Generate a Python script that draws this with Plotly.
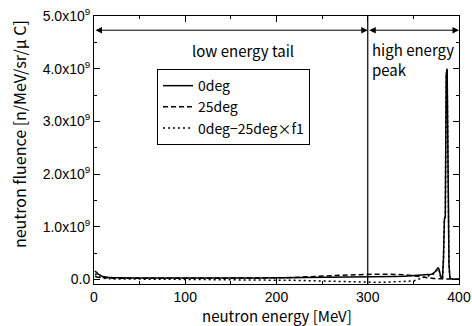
import plotly.graph_objects as go

# ---------------- data (fluence in units of 1e9 n/MeV/sr/uC) ----------------
energy = [1, 2, 3, 4, 6, 8, 10, 12, 15, 20, 25, 30, 40, 50, 60, 70, 80, 90, 100,
          110, 120, 130, 140, 150, 160, 170, 180, 190, 200, 210, 220, 230, 240,
          250, 260, 270, 280, 290, 300, 310, 320, 330, 340, 350, 360, 365, 370,
          372, 374, 376, 377, 378, 379, 380, 381, 382, 383, 384, 385, 386, 387,
          388, 389, 390, 392, 395, 400]

deg0 = [0.16, 0.15, 0.13, 0.11, 0.08, 0.065, 0.055, 0.048, 0.042, 0.036, 0.032,
        0.030, 0.028, 0.027, 0.026, 0.025, 0.025, 0.024, 0.024, 0.024, 0.024,
        0.024, 0.025, 0.025, 0.025, 0.026, 0.027, 0.028, 0.029, 0.030, 0.031,
        0.032, 0.033, 0.035, 0.036, 0.037, 0.038, 0.040, 0.042, 0.045, 0.050,
        0.055, 0.060, 0.070, 0.080, 0.090, 0.100, 0.120, 0.150, 0.200, 0.220,
        0.200, 0.120, 0.050, 0.030, 0.050, 0.400, 1.150, 1.200, 3.900, 4.000,
        2.500, 0.300, 0.030, 0.010, 0.005, 0.005]

deg25 = [0.06, 0.05, 0.045, 0.042, 0.038, 0.035, 0.03, 0.028, 0.026, 0.024, 0.022,
         0.021, 0.020, 0.020, 0.020, 0.020, 0.020, 0.020, 0.020, 0.020, 0.021,
         0.021, 0.022, 0.022, 0.023, 0.024, 0.025, 0.027, 0.030, 0.033, 0.037,
         0.042, 0.050, 0.060, 0.070, 0.080, 0.088, 0.095, 0.100, 0.100, 0.098,
         0.095, 0.090, 0.070, 0.040, 0.030, 0.020, 0.018, 0.016, 0.015, 0.015,
         0.015, 0.015, 0.015, 0.015, 0.015, 0.015, 0.015, 0.015, 0.015, 0.015,
         0.012, 0.010, 0.008, 0.005, 0.003, 0.002]

diff = [0.10, 0.10, 0.085, 0.07, 0.045, 0.03, 0.022, 0.018, 0.014, 0.010, 0.008,
        0.007, 0.006, 0.005, 0.004, 0.003, 0.003, 0.002, 0.002, 0.002, 0.001,
        0.001, 0.001, 0.000, -0.002, -0.004, -0.006, -0.008, -0.010, -0.014,
        -0.018, -0.022, -0.027, -0.030, -0.036, -0.042, -0.048, -0.052, -0.055,
        -0.055, -0.052, -0.048, -0.045, -0.030, 0.030, 0.060, 0.080, 0.100,
        0.130, 0.185, 0.205, 0.185, 0.105, 0.035, 0.015, 0.035, 0.385, 1.135,
        1.185, 3.885, 3.985, 2.488, 0.290, 0.022, 0.005, 0.002, 0.003]

series_names = ["0deg", "25deg", "0deg\u221225deg\u00d7f1"]
scale = 1e9

ytick_vals = [0, 1, 2, 3, 4, 5]
ytick_text = ["0.0", "1.0x10<sup>9</sup>", "2.0x10<sup>9</sup>", "3.0x10<sup>9</sup>",
              "4.0x10<sup>9</sup>", "5.0x10<sup>9</sup>"]
xtick_vals = [0, 100, 200, 300, 400]

boundary = 300      # low / high energy boundary [MeV]
arrow_level = 4.73  # height of the region arrows (1e9)

# ---------------- figure ----------------
fig = go.Figure()
styles = [dict(dash="solid"), dict(dash="5px,3px"), dict(dash="2px,3px")]
for name, ys, st in zip(series_names, [deg0, deg25, diff], styles):
    fig.add_trace(go.Scatter(
        x=energy, y=[v * scale for v in ys], mode="lines", name=name,
        line=dict(color="black", width=1.5, dash=st["dash"]),
    ))

fig.add_shape(type="line", xref="x", yref="paper", x0=boundary, x1=boundary,
              y0=0, y1=1, line=dict(color="black", width=1.2))

# double-headed arrows
for x0, x1 in [(0, boundary), (boundary, 400)]:
    fig.add_annotation(x=x1, y=arrow_level * scale, ax=x0, ay=arrow_level * scale,
                       xref="x", yref="y", axref="x", ayref="y", text="",
                       showarrow=True, arrowhead=2, startarrowhead=2,
                       arrowside="end+start", arrowsize=1.3, startarrowsize=1.3,
                       arrowwidth=1, arrowcolor="black")

txtfont = dict(family="Noto Sans CJK JP", size=15, color="black")
fig.add_annotation(x=163, y=4.35 * scale, xref="x", yref="y", text="low energy tail",
                   showarrow=False, font=txtfont)
fig.add_annotation(x=303, y=4.6 * scale, xref="x", yref="y",
                   text="high energy<br>peak", showarrow=False, font=txtfont,
                   xanchor="left", yanchor="top", align="left")

fig.add_annotation(x=-0.205, y=0.56, xref="paper", yref="paper",
                   text="neutron fluence [n/MeV/sr/\u03bc C]", textangle=-90,
                   showarrow=False, xanchor="center", yanchor="middle",
                   font=dict(family="Noto Sans CJK JP", size=16, color="black"))
fig.add_annotation(x=0.5, y=-0.118, xref="paper", yref="paper",
                   text="neutron energy [MeV]", showarrow=False,
                   xanchor="center", yanchor="middle",
                   font=dict(family="Noto Sans CJK JP", size=15, color="black"))

axis_common = dict(showgrid=False, zeroline=False, showline=True, linecolor="black",
                   linewidth=1, mirror="ticks", ticks="inside", ticklen=6,
                   tickcolor="black", tickwidth=1, automargin=False,
                   tickfont=dict(family="Liberation Sans", size=14, color="black"))

fig.update_xaxes(range=[0, 400], tickvals=xtick_vals,
                 minor=dict(ticks="inside", ticklen=3, dtick=50, tick0=0, tickcolor="black"),
                 **axis_common)
fig.update_yaxes(range=[-0.087 * scale, 5.0 * scale],
                 tickvals=[v * scale for v in ytick_vals], ticktext=ytick_text,
                 minor=dict(ticks="inside", ticklen=3, dtick=0.5 * scale, tick0=0, tickcolor="black"),
                 **axis_common)

fig.update_layout(
    width=472, height=326, margin=dict(l=94, r=13, t=16, b=42),
    paper_bgcolor="white", plot_bgcolor="white",
    legend=dict(x=0.1726, y=0.802, xanchor="left", yanchor="top",
                bordercolor="black", borderwidth=1, bgcolor="white",
                font=dict(family="Noto Sans CJK JP", size=14, color="black"),
                tracegroupgap=0, itemwidth=30),
    showlegend=True,
)

fig.write_html("out.html")
